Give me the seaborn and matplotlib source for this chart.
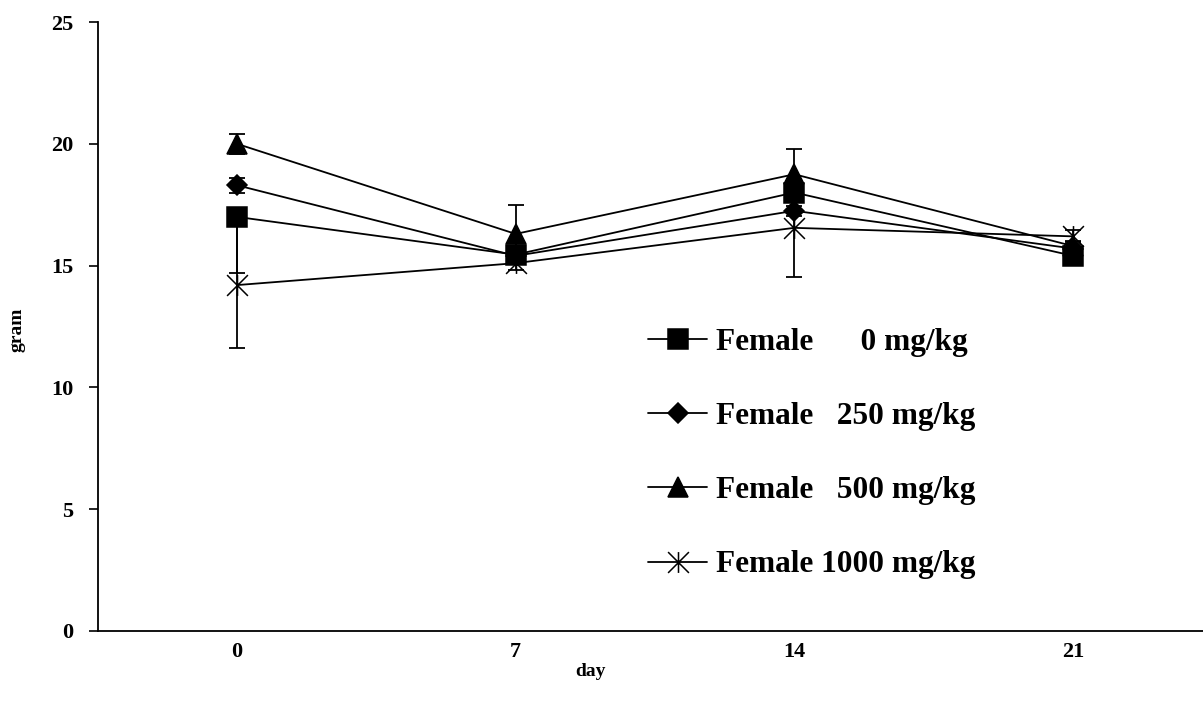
import numpy as np
import pandas as pd
import matplotlib
matplotlib.use("Agg")
import matplotlib.pyplot as plt
from matplotlib.path import Path
from matplotlib.lines import Line2D
import seaborn as sns

# ---- data ----
days = [0, 7, 14, 21]
tick_labels = ["0", "7", "14", "21"]
series_names = ["Female      0 mg/kg", "Female   250 mg/kg", "Female   500 mg/kg", "Female 1000 mg/kg"]
mean_0 = [17.0, 15.45, 18.0, 15.4]
mean_250 = [18.3, 15.4, 17.25, 15.7]
mean_500 = [20.0, 16.3, 18.75, 15.8]
mean_1000 = [14.2, 15.1, 16.55, 16.2]
err_lo_0 = [2.3, 0.2, 0.2, 0.2]
err_hi_0 = [0.3, 0.2, 0.2, 0.2]
err_lo_250 = [0.3, 0.2, 0.2, 0.2]
err_hi_250 = [0.3, 0.2, 0.2, 0.2]
err_lo_500 = [0.4, 1.2, 1.05, 0.2]
err_hi_500 = [0.4, 1.2, 1.05, 0.2]
err_lo_1000 = [2.6, 0.3, 2.0, 0.25]
err_hi_1000 = [2.6, 0.3, 2.0, 0.25]
y_ticks = [0, 5, 10, 15, 20, 25]

sns.set_style("ticks")
plt.rcParams["font.family"] = ["Liberation Serif", "DejaVu Serif"]
plt.rcParams["font.weight"] = "bold"
for k in ["text.color", "axes.labelcolor", "xtick.color", "ytick.color", "axes.edgecolor"]:
    plt.rcParams[k] = "black"

fig = plt.figure(figsize=(12.03, 7.11), dpi=100)
L, R, B, T = 97.5, 1212.5, 631, 22
ax = fig.add_axes([L / 1203, (711 - B) / 711, (R - L) / 1203, (B - T) / 711])

star = Path([(-0.5, -0.5), (0.5, 0.5), (-0.5, 0.5), (0.5, -0.5), (0, -0.5), (0, 0.5)],
            [Path.MOVETO, Path.LINETO, Path.MOVETO, Path.LINETO, Path.MOVETO, Path.LINETO])

means = [mean_0, mean_250, mean_500, mean_1000]
errs = [(err_lo_0, err_hi_0), (err_lo_250, err_hi_250),
        (err_lo_500, err_hi_500), (err_lo_1000, err_hi_1000)]
markers = ["s", "D", "^", star]
msizes = [15, 10.5, 15, 15]

handles = []
for name, m, e, mk, ms in zip(series_names, means, errs, markers, msizes):
    df = pd.DataFrame({"day": days, "gram": m})
    ax.errorbar(days, m, yerr=[e[0], e[1]], fmt="none", ecolor="black", elinewidth=1.3,
                capsize=5.8, capthick=1.3, zorder=2)
    sns.lineplot(data=df, x="day", y="gram", ax=ax, color="black", linewidth=1.3,
                 marker=mk, markersize=ms, markeredgecolor="black",
                 markerfacecolor="black", markeredgewidth=1.1, zorder=3)
    handles.append(Line2D([], [], color="black", linewidth=1.3, marker=mk, markersize=ms,
                          markerfacecolor="black", markeredgecolor="black",
                          markeredgewidth=1.1, label=name))

ax.set_xlim(-3.5, 24.5)
ax.set_ylim(0, 25)
ax.set_xticks(days)
ax.set_xticklabels(tick_labels)
ax.set_yticks(y_ticks)
ax.tick_params(axis="x", length=0, pad=8, labelsize=16)
ax.tick_params(axis="y", length=6.5, width=1.2, pad=11, labelsize=16, direction="out")
for lab in ax.get_xticklabels() + ax.get_yticklabels():
    lab.set_fontweight("bold")
for s in ["top", "right"]:
    ax.spines[s].set_visible(False)
for s in ["left", "bottom"]:
    ax.spines[s].set_linewidth(1.3)

ax.set_xlabel("day", fontsize=14, fontweight="bold", va="center")
ax.xaxis.set_label_coords((590 - L) / (R - L), (B - 672) / (B - T))
ax.set_ylabel("gram", fontsize=14, fontweight="bold", va="center")
ax.yaxis.set_label_coords((17 - L) / (R - L), (B - 330) / (B - T))

leg = ax.legend(handles=handles, loc="center left",
                bbox_to_anchor=(648 / 1203, 1 - 453.5 / 711), bbox_transform=fig.transFigure,
                frameon=False, fontsize=22.5, handlelength=1.9, handletextpad=0.26,
                labelspacing=1.45, borderpad=0, borderaxespad=0)
for t in leg.get_texts():
    t.set_fontweight("bold")

fig.savefig("out.png", dpi=100)
